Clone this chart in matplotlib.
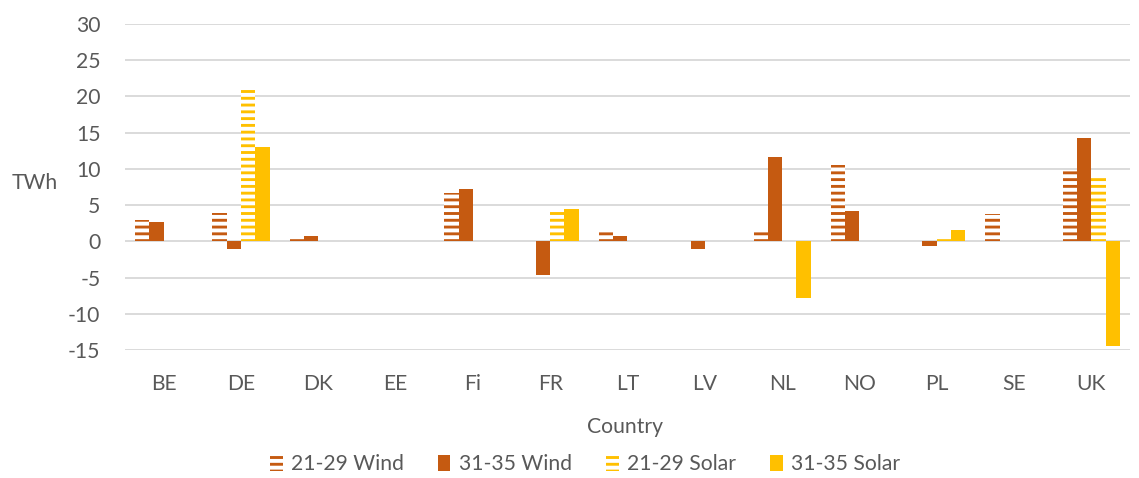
import matplotlib
matplotlib.use("Agg")
import matplotlib.pyplot as plt
import numpy as np
from matplotlib.patches import Patch

countries = ["BE", "DE", "DK", "EE", "Fi", "FR", "LT", "LV", "NL", "NO", "PL", "SE", "UK"]
wind_21_29 = [2.9, 3.9, 0.3, 0.0, 6.7, 0.0, 1.4, 0.0, 1.4, 10.6, 0.0, 3.8, 9.9]
wind_31_35 = [2.7, -1.0, 0.8, 0.0, 7.2, -4.6, 0.7, -1.0, 11.6, 4.2, -0.7, 0.0, 14.2]
solar_21_29 = [0.0, 21.0, 0.0, 0.0, 0.0, 4.1, 0.0, 0.0, 0.0, 0.0, 0.3, 0.0, 8.8]
solar_31_35 = [0.0, 13.0, 0.0, 0.0, 0.0, 4.5, 0.0, 0.0, -7.8, 0.0, 1.5, 0.0, -14.5]
series_labels = ["21-29 Wind", "31-35 Wind", "21-29 Solar", "31-35 Solar"]
yticks = [-15, -10, -5, 0, 5, 10, 15, 20, 25, 30]

WIND = "#C55A11"
SOLAR = "#FFC000"
TXT = "#595959"
GRID = "#D9D9D9"
FS = 12.5

DPI = 122
plt.rcParams["font.family"] = ["Lato", "DejaVu Sans"]
plt.rcParams["hatch.linewidth"] = 1.7

fig = plt.figure(figsize=(1139 / DPI, 478 / DPI), dpi=DPI)
ax = fig.add_axes([125 / 1139, 1 - 350 / 478, (1130 - 125) / 1139, (350 - 24) / 478])

x = np.arange(len(countries))
w = 0.185
series = [wind_21_29, wind_31_35, solar_21_29, solar_31_35]
colors = [WIND, WIND, SOLAR, SOLAR]
hatched = [True, False, True, False]
for i, (vals, c, h) in enumerate(zip(series, colors, hatched)):
    pos = x + (i - 1.5) * w
    if h:
        ax.bar(pos, vals, w, facecolor="white", edgecolor=c, hatch="---", linewidth=0, zorder=3)
    else:
        ax.bar(pos, vals, w, color=c, linewidth=0, zorder=3)

ax.set_xlim(-0.5, len(countries) - 0.5)
ax.set_ylim(-15, 30)
ax.set_yticks(yticks)
ax.set_yticklabels([str(v) for v in yticks])
ax.set_xticks(x)
ax.set_xticklabels(countries)
ax.grid(axis="y", color=GRID, linewidth=1.1, zorder=0)
ax.set_axisbelow(True)
for s in ax.spines.values():
    s.set_visible(False)
ax.tick_params(axis="both", length=0, colors=TXT, labelsize=FS)
ax.tick_params(axis="y", pad=14.5)
ax.tick_params(axis="x", pad=14)

fig.text(12 / 1139, 1 - 183 / 478, "TWh", color=TXT, fontsize=FS, ha="left", va="center")
fig.text(625 / 1139, 1 - 427 / 478, "Country", color=TXT, fontsize=FS, ha="center", va="center")

handles = [
    Patch(facecolor="white", edgecolor=WIND, hatch="---", linewidth=0),
    Patch(facecolor=WIND, linewidth=0),
    Patch(facecolor="white", edgecolor=SOLAR, hatch="---", linewidth=0),
    Patch(facecolor=SOLAR, linewidth=0),
]
leg = fig.legend(handles, series_labels, loc="center", bbox_to_anchor=(585 / 1139, 1 - 464 / 478),
                 ncol=4, frameon=False, fontsize=FS, handlelength=0.6, handleheight=0.8,
                 handletextpad=0.4, columnspacing=1.6, labelcolor=TXT)

fig.savefig("out.png", dpi=DPI)
